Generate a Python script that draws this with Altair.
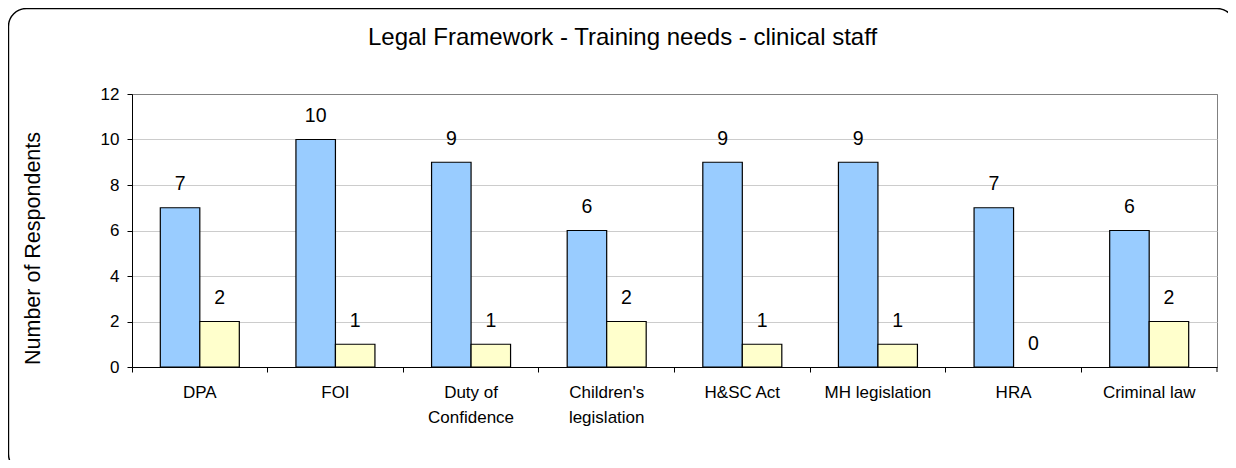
import altair as alt
import pandas as pd

categories = ["DPA", "FOI", "Duty of\nConfidence", "Children's\nlegislation",
              "H&SC Act", "MH legislation", "HRA", "Criminal law"]
series_names = ["Series 1", "Series 2"]
series1 = [7, 10, 9, 6, 9, 9, 7, 6]
series2 = [2, 1, 1, 2, 1, 1, 0, 2]
y_ticks = [0, 2, 4, 6, 8, 10, 12]
colors = ["#99CCFF", "#FFFFCC"]
title_text = "Legal Framework - Training needs - clinical staff"
y_title = "Number of Respondents"

rows = []
for c, a, b in zip(categories, series1, series2):
    rows.append({"category": c, "series": series_names[0], "value": a})
    rows.append({"category": c, "series": series_names[1], "value": b})
df = pd.DataFrame(rows)

W, H = 1085, 273
FONT = "Liberation Sans"

x_enc = alt.X(
    "category:N", sort=categories,
    scale=alt.Scale(paddingInner=0, paddingOuter=0),
    axis=alt.Axis(title=None, labelAngle=0, bandPosition=0,
                  tickSize=5, domainColor="black", tickColor="black",
                  labelFontSize=17, labelColor="black", labelPadding=12,
                  labelExpr="split(datum.label, '\\n')", labelLineHeight=25,
                  grid=False, labelBaseline="top"))
y_enc = alt.Y(
    "value:Q", scale=alt.Scale(domain=[0, 12], nice=False),
    axis=alt.Axis(values=y_ticks, title=y_title, grid=True,
                  gridColor={"condition": {"test": "datum.value === 12", "value": "#808080"},
                             "value": "#cccccc"},
                  tickSize=5, labelPadding=8, labelFontSize=17, labelColor="black",
                  titleFontSize=21.5, titleFontWeight="normal", titleColor="black",
                  titleX=-99, titleY=154, titleAngle=-90, titleAlign="center",
                  titleBaseline="middle", domainColor="black", tickColor="black"))
xoff = alt.XOffset("series:N", sort=series_names,
                   scale=alt.Scale(paddingOuter=0.7168, paddingInner=0))

base = alt.Chart(df)
bars = base.mark_bar(stroke="black", strokeWidth=1.2).encode(
    x=x_enc, y=y_enc, xOffset=xoff,
    color=alt.Color("series:N", sort=series_names,
                    scale=alt.Scale(domain=series_names, range=colors), legend=None),
    strokeOpacity=alt.condition("datum.value == 0", alt.value(0), alt.value(1)))
labels = base.mark_text(dy=-17.5, baseline="alphabetic", fontSize=19.5, font=FONT,
                        color="black").encode(
    x=alt.X("category:N", sort=categories), y="value:Q", xOffset=xoff,
    text="value:Q")

border = alt.Chart(pd.DataFrame({"k": [0]})).mark_rect(
    fillOpacity=0, stroke="black", strokeWidth=1.4, cornerRadius=18).encode(
    x=alt.value(-123.5), x2=alt.value(1103), y=alt.value(-85.5), y2=alt.value(378))
end_tick = alt.Chart(pd.DataFrame({"k": [0]})).mark_rule(color="black").encode(
    x=alt.value(W), y=alt.value(H), y2=alt.value(H + 5))
title = alt.Chart(pd.DataFrame({"t": [title_text]})).mark_text(
    fontSize=24, font=FONT, color="black", align="center", baseline="alphabetic").encode(
    text="t:N", x=alt.value(490.5), y=alt.value(-49))

chart = alt.layer(border, bars, labels, end_tick, title).properties(
    width=W, height=H,
    padding={"left": 124, "top": 86, "right": 11, "bottom": 93},
    autosize=alt.AutoSizeParams(type="none"),
    background="white",
).configure_view(stroke="#808080", strokeWidth=1).configure_axis(
    labelFont=FONT, titleFont=FONT)

chart.save("out.html", embed_options={"renderer": "svg", "actions": False})
